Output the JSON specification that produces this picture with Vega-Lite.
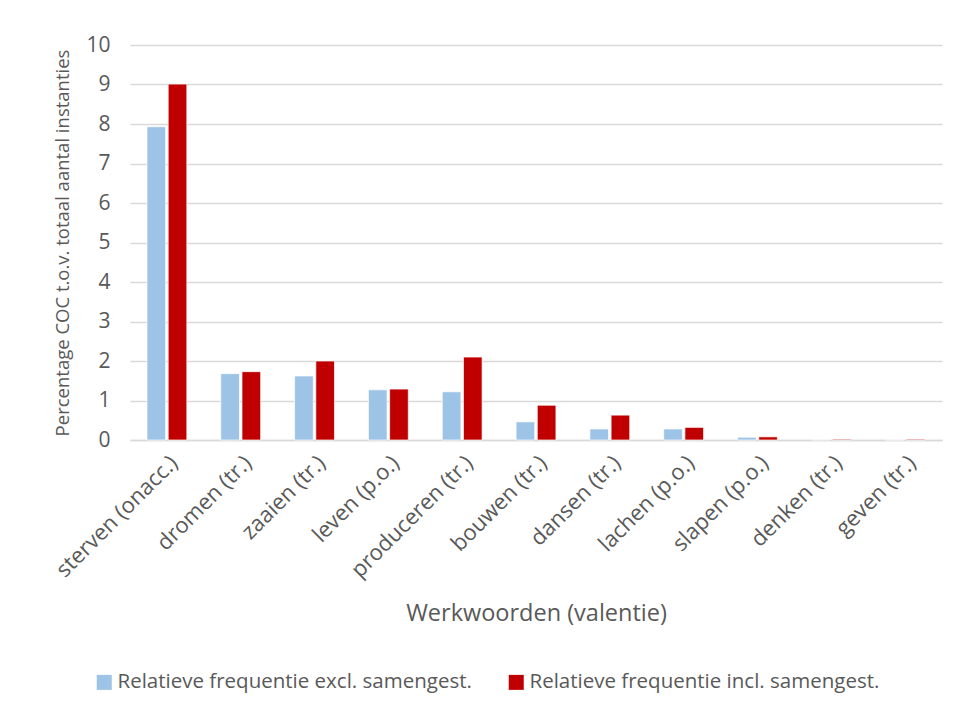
{
  "$schema": "https://vega.github.io/schema/vega-lite/v6.json",
  "width": 812,
  "height": 395,
  "autosize": "none",
  "padding": {"left": 130, "top": 45, "right": 13, "bottom": 273},
  "background": "white",
  "config": {
    "font": "Open Sans",
    "view": {"stroke": null},
    "axis": {"labelColor": "#595959", "titleColor": "#595959", "labelFont": "Open Sans", "titleFont": "Open Sans", "titleFontWeight": "normal"}
  },
  "data": {
    "values": [
      {"werkwoord": "sterven (onacc.)", "reeks": "Relatieve frequentie excl. samengest.", "waarde": 7.93},
      {"werkwoord": "sterven (onacc.)", "reeks": "Relatieve frequentie incl. samengest.", "waarde": 9.01},
      {"werkwoord": "dromen (tr.)", "reeks": "Relatieve frequentie excl. samengest.", "waarde": 1.68},
      {"werkwoord": "dromen (tr.)", "reeks": "Relatieve frequentie incl. samengest.", "waarde": 1.73},
      {"werkwoord": "zaaien (tr.)", "reeks": "Relatieve frequentie excl. samengest.", "waarde": 1.62},
      {"werkwoord": "zaaien (tr.)", "reeks": "Relatieve frequentie incl. samengest.", "waarde": 2.0},
      {"werkwoord": "leven (p.o.)", "reeks": "Relatieve frequentie excl. samengest.", "waarde": 1.27},
      {"werkwoord": "leven (p.o.)", "reeks": "Relatieve frequentie incl. samengest.", "waarde": 1.29},
      {"werkwoord": "produceren (tr.)", "reeks": "Relatieve frequentie excl. samengest.", "waarde": 1.22},
      {"werkwoord": "produceren (tr.)", "reeks": "Relatieve frequentie incl. samengest.", "waarde": 2.1},
      {"werkwoord": "bouwen (tr.)", "reeks": "Relatieve frequentie excl. samengest.", "waarde": 0.46},
      {"werkwoord": "bouwen (tr.)", "reeks": "Relatieve frequentie incl. samengest.", "waarde": 0.88},
      {"werkwoord": "dansen (tr.)", "reeks": "Relatieve frequentie excl. samengest.", "waarde": 0.28},
      {"werkwoord": "dansen (tr.)", "reeks": "Relatieve frequentie incl. samengest.", "waarde": 0.63},
      {"werkwoord": "lachen (p.o.)", "reeks": "Relatieve frequentie excl. samengest.", "waarde": 0.28},
      {"werkwoord": "lachen (p.o.)", "reeks": "Relatieve frequentie incl. samengest.", "waarde": 0.32},
      {"werkwoord": "slapen (p.o.)", "reeks": "Relatieve frequentie excl. samengest.", "waarde": 0.07},
      {"werkwoord": "slapen (p.o.)", "reeks": "Relatieve frequentie incl. samengest.", "waarde": 0.08},
      {"werkwoord": "denken (tr.)", "reeks": "Relatieve frequentie excl. samengest.", "waarde": 0.01},
      {"werkwoord": "denken (tr.)", "reeks": "Relatieve frequentie incl. samengest.", "waarde": 0.02},
      {"werkwoord": "geven (tr.)", "reeks": "Relatieve frequentie excl. samengest.", "waarde": 0.005},
      {"werkwoord": "geven (tr.)", "reeks": "Relatieve frequentie incl. samengest.", "waarde": 0.02}
    ]
  },
  "mark": {"type": "bar", "stroke": "white", "strokeWidth": 0.7},
  "encoding": {
    "x": {
      "field": "werkwoord",
      "type": "nominal",
      "sort": null,
      "scale": {"paddingInner": 0.46, "paddingOuter": 0.23},
      "axis": {
        "title": "Werkwoorden (valentie)",
        "titleFontSize": 23.5,
        "titlePadding": 20,
        "labelAngle": -45,
        "labelFontSize": 22,
        "labelPadding": 12,
        "labelLimit": 300,
        "ticks": false,
        "domainColor": "#D9D9D9",
        "domainWidth": 1.5
      }
    },
    "xOffset": {
      "field": "reeks",
      "type": "nominal",
      "scale": {"paddingInner": 0.12}
    },
    "y": {
      "field": "waarde",
      "type": "quantitative",
      "scale": {"domain": [0, 10], "nice": false},
      "axis": {
        "title": "Percentage COC t.o.v. totaal aantal instanties",
        "titleFontSize": 18.5,
        "titlePadding": 13,
        "values": [0, 1, 2, 3, 4, 5, 6, 7, 8, 9, 10],
        "labelFontSize": 21,
        "labelPadding": 20,
        "ticks": false,
        "domain": false,
        "gridColor": "#D9D9D9",
        "gridWidth": 1.5
      }
    },
    "color": {
      "field": "reeks",
      "type": "nominal",
      "scale": {"range": ["#9DC3E6", "#C00000"]},
      "legend": {
        "title": null,
        "orient": "none",
        "legendX": -36,
        "legendY": 627,
        "direction": "horizontal",
        "symbolType": "square",
        "symbolSize": 225,
        "symbolStrokeWidth": 0,
        "labelFontSize": 20.5,
        "labelColor": "#595959",
        "labelFont": "Open Sans",
        "columnPadding": 34,
        "labelOffset": 3,
        "labelLimit": 500
      }
    }
  }
}
